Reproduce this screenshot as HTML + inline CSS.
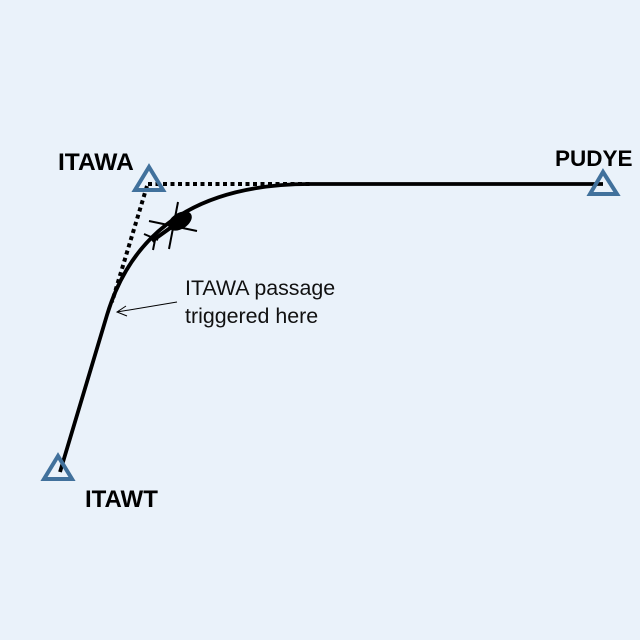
<!DOCTYPE html>
<html><head><meta charset="utf-8"><style>
html,body{margin:0;padding:0;background:#EAF2FA;}
svg{display:block;}
</style></head><body>
<svg width="640" height="640" viewBox="0 0 640 640" xmlns="http://www.w3.org/2000/svg">
<rect width="640" height="640" fill="#EAF2FA"/>
<!-- dotted reference lines -->
<line x1="148" y1="184" x2="312" y2="184" stroke="#000" stroke-width="4" stroke-dasharray="4 3.5"/>
<line x1="147" y1="186" x2="112" y2="302" stroke="#000" stroke-width="4" stroke-dasharray="4 3.5"/>
<!-- flight path -->
<path d="M60,472 L107,315 Q146.6,184 310,184 L603,184" fill="none" stroke="#000" stroke-width="3.8"/>
<!-- triangles -->
<polygon points="149,167 135,190 163,190" fill="none" stroke="#41719C" stroke-width="4" stroke-linejoin="miter"/>
<polygon points="58,456 44,479 72,479" fill="none" stroke="#41719C" stroke-width="4"/>
<polygon points="603,172 590,194 617,194" fill="none" stroke="#41719C" stroke-width="4"/>
<!-- helicopter -->
<g stroke="#000" stroke-linecap="butt">
<ellipse cx="180" cy="221" rx="13" ry="8" transform="rotate(-32 180 221)" fill="#000" stroke="none"/>
<line x1="180" y1="221" x2="152" y2="241" stroke-width="4"/>
<line x1="149" y1="221" x2="197" y2="231" stroke-width="2"/>
<line x1="178" y1="202" x2="169" y2="249" stroke-width="2"/>
<line x1="144" y1="234" x2="158" y2="240" stroke-width="2"/>
<line x1="155" y1="240" x2="153" y2="250" stroke-width="2"/>
</g>
<!-- annotation arrow -->
<line x1="177" y1="302" x2="117" y2="312" stroke="#000" stroke-width="1"/>
<polyline points="126,306 117,312 127,316" fill="none" stroke="#000" stroke-width="1"/>
<!-- labels -->
<g font-family="'Liberation Sans', sans-serif" fill="#000">
<text x="58" y="170" font-size="24.5" font-weight="bold">ITAWA</text>
<text x="85" y="507" font-size="24" font-weight="bold">ITAWT</text>
<text x="555" y="166" font-size="22.5" font-weight="bold">PUDYE</text>
<text x="185" y="295" font-size="21.4" fill="#111">ITAWA passage</text>
<text x="185" y="323" font-size="21.4" fill="#111">triggered here</text>
</g>
</svg>
</body></html>
